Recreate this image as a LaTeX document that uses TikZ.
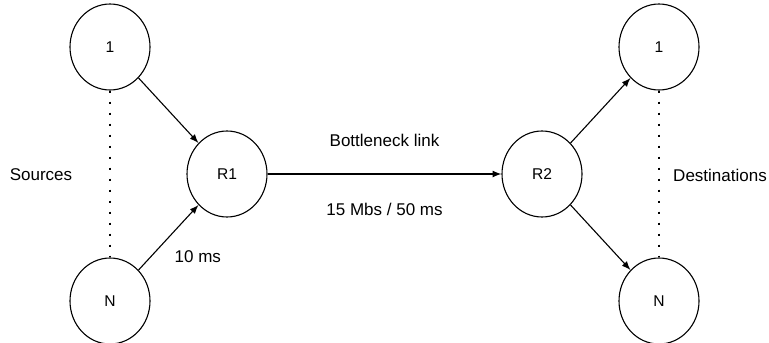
\documentclass[tikz,border=0pt]{standalone}
\usepackage{fontspec}
\setmainfont{Liberation Sans}
\usepackage{tikz}
\usetikzlibrary{positioning,shapes.geometric}
\tikzstyle{host} = [ellipse, draw, fill=white, minimum width=40pt, minimum height=43pt, inner sep=0pt, font=\fontsize{7.8}{9}\selectfont]
\tikzstyle{txt} = [font=\fontsize{8.5}{10}\selectfont]
\tikzstyle{dots} = [-, line width=1.2pt, dash pattern=on 1.1pt off 4.4pt]

\begin{document}
\begin{tikzpicture}[->,>=latex,line width=0.55pt,on grid,node distance=2cm]
  \useasboundingbox (0pt,0pt) rectangle (384.5pt,-171pt);

  \node[host] (src1) at (55pt,-23.5pt) {1};
  \node[host] (R1) [below right=63.5pt and 58.5pt of src1] {R1};
  \node[host] (srcN) [below=127pt of src1] {N};
  \node[host] (R2) [right=157.5pt of R1] {R2};
  \node[host] (dst1) [above right=63.5pt and 58.5pt of R2] {1};
  \node[host] (dstN) [below=127pt of dst1] {N};

  \node[txt] (src) at (20.5pt,-87.5pt) {Sources};
  \node[txt] (dst) at (360pt,-87.5pt) {Destinations};

  \path (src1) edge (R1);
  \path (srcN) edge node[txt, anchor=north west, xshift=-0.5pt, yshift=-3pt] {10 ms} (R1);
  \path (R1) edge node[txt, above=10pt] {Bottleneck link}
                  node[txt, below=11pt] {15 Mbs / 50 ms} (R2);
  \path (R2) edge (dst1);
  \path (R2) edge (dstN);
  \draw[dots] (src1) -- (srcN);
  \draw[dots] (dst1) -- (dstN);
\end{tikzpicture}
\end{document}
